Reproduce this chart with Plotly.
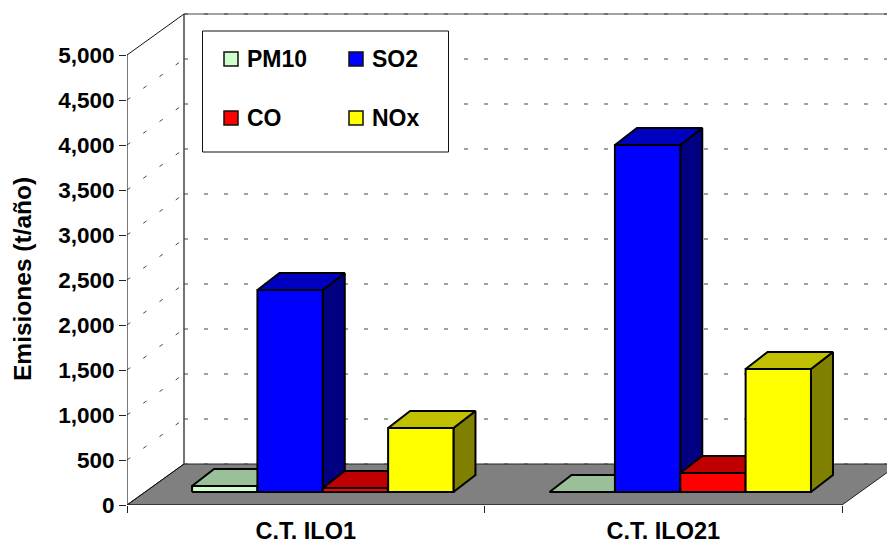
import plotly.graph_objects as go

categories = ["C.T. ILO1", "C.T. ILO21"]
series_names = ["PM10", "SO2", "CO", "NOx"]
pm10 = [67, 0]
so2 = [2244, 3856]
co = [44, 211]
nox = [711, 1367]
y_ticks = [0, 500, 1000, 1500, 2000, 2500, 3000, 3500, 4000, 4500, 5000]
y_title = "Emisiones (t/año)"
front_colors = ["#CCFFCC", "#0000FF", "#FF0000", "#FFFF00"]
top_colors = ["#99C099", "#0000C0", "#C00000", "#C0C000"]
side_colors = ["#668066", "#000080", "#800000", "#808000"]

W, H = 887, 544
L, B = 127, 39
PX_X = 357.5
PX_Y = 0.09
X_MAX = (W - L) / PX_X
Y_MAX = (H - B) / PX_Y
WALL_X, WALL_Y = 57 / PX_X, 41 / PX_Y
DEPTH_X, DEPTH_Y = 22 / PX_X, 17 / PX_Y
BASE_Y = 13 / PX_Y
BAR_START, BAR_W = 0.182, 0.1828
FONT = "Liberation Sans"

fig = go.Figure()


def poly(xs, ys, fill, line="black", width=2):
    fig.add_trace(go.Scatter(x=xs, y=ys, mode="lines", fill="toself", fillcolor=fill,
                             line=dict(color=line, width=width), hoverinfo="skip",
                             showlegend=False))


def seg(xs, ys, color="#333333", width=1, dash=None):
    fig.add_trace(go.Scatter(x=xs, y=ys, mode="lines", cliponaxis=False,
                             line=dict(color=color, width=width, dash=dash),
                             hoverinfo="skip", showlegend=False))


# floor
poly([0, 2, 2 + WALL_X, WALL_X, 0], [0, 0, WALL_Y, WALL_Y, 0], "#808080", "#222222", 1)
# walls
seg([WALL_X, WALL_X], [WALL_Y, 5000 + WALL_Y], "#444444", 1.5)
seg([WALL_X, X_MAX], [5000 + WALL_Y] * 2, "#444444", 1)
seg([0, WALL_X], [0, WALL_Y], "#111111", 1)
seg([0, WALL_X], [5000, 5000 + WALL_Y], "#111111", 1)
for v in y_ticks:
    seg([WALL_X, X_MAX], [v + WALL_Y] * 2, "#444444", 1, "4px,16px")
    if 0 < v < 5000:
        seg([0, WALL_X], [v, v + WALL_Y], "#444444", 1, "4px,16px")

# bars, painted back to front and left to right
for c in range(len(categories)):
    for s, vals in enumerate([pm10, so2, co, nox]):
        v = vals[c]
        x0 = c + BAR_START + s * BAR_W
        x1 = x0 + BAR_W
        y0 = BASE_Y
        y1 = BASE_Y + v
        poly([x1, x1 + DEPTH_X, x1 + DEPTH_X, x1, x1],
             [y0, y0 + DEPTH_Y, y1 + DEPTH_Y, y1, y0], side_colors[s])
        poly([x0, x1, x1 + DEPTH_X, x0 + DEPTH_X, x0],
             [y1, y1, y1 + DEPTH_Y, y1 + DEPTH_Y, y1], top_colors[s])
        poly([x0, x1, x1, x0, x0], [y0, y0, y1, y1, y0], front_colors[s])

# axis lines
seg([0, 0], [0, 5000], "#222222", 1.2)
seg([0, 2], [0, 0], "#222222", 1.2)


def px(x):
    return (x - L) / (W - L)


def py(y):
    return (H - B - y) / (H - B)


shapes = [dict(type="rect", xref="paper", yref="paper", x0=px(202.5), x1=px(448.5),
               y0=py(152), y1=py(31), fillcolor="white", line=dict(color="#111111", width=1))]
legend_at = [(224, 59), (349, 59), (224, 118), (349, 118)]
annotations = []
for name, col, (lx, ly) in zip(series_names, front_colors, legend_at):
    shapes.append(dict(type="rect", xref="paper", yref="paper", x0=px(lx), x1=px(lx + 14),
                       y0=py(ly + 7), y1=py(ly - 7), fillcolor=col,
                       line=dict(color="#111111", width=1.5)))
    annotations.append(dict(text=name, xref="paper", yref="paper", x=px(lx + 21), y=py(ly),
                            xanchor="left", yanchor="middle", showarrow=False,
                            font=dict(family=FONT, size=23, color="black", weight=700)))
annotations.append(dict(text=y_title, xref="paper", yref="paper", x=px(22), y=py(279),
                        textangle=-90, xanchor="center", yanchor="middle", showarrow=False,
                        font=dict(family=FONT, size=24.5, color="black", weight=700)))

fig.update_layout(
    width=W, height=H, autosize=False, paper_bgcolor="white", plot_bgcolor="white",
    margin=dict(l=L, r=0, t=0, b=B, pad=0), showlegend=False,
    shapes=shapes, annotations=annotations,
    xaxis=dict(range=[0, X_MAX], tickmode="array", tickvals=[0.5, 1.5], ticktext=categories,
               ticks="", showgrid=False, zeroline=False, showline=False, automargin=False,
               ticklabelstandoff=9,
               tickfont=dict(family=FONT, size=23.5, color="black", weight=700)),
    xaxis2=dict(range=[0, X_MAX], overlaying="x", side="bottom", tickmode="array",
                tickvals=[0, 1, 2], ticktext=["", "", ""], ticks="outside", ticklen=7,
                automargin=False,
                tickcolor="#222222", showgrid=False, zeroline=False, showline=False),
    yaxis=dict(range=[0, Y_MAX], tickmode="array", tickvals=y_ticks, tickformat=",",
               ticks="outside", ticklen=7, tickcolor="#222222", showgrid=False,
               zeroline=False, showline=False, automargin=False,
               tickfont=dict(family=FONT, size=22.5, color="black", weight=700)),
)
fig.add_trace(go.Scatter(x=[0], y=[0], xaxis="x2", mode="markers", marker=dict(opacity=0),
                         hoverinfo="skip", showlegend=False))
fig.write_html("out.html", post_script="document.body.style.margin='0';",
               config={"displayModeBar": False})
